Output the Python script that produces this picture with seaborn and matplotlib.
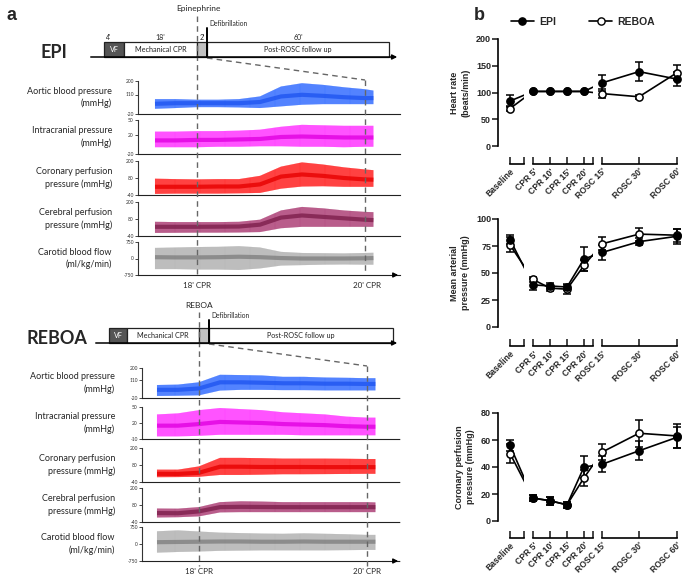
import numpy as np
import seaborn as sns
import matplotlib.pyplot as plt
from matplotlib.lines import Line2D
from matplotlib.colors import to_rgba

sns.set_theme(style="white")
plt.rcParams["font.family"] = ["Lato", "DejaVu Sans"]
plt.rcParams["hatch.linewidth"] = 0.7

W, H = 685, 577

# ---------------- panel b data ----------------
labels = ["Baseline", "CPR 5'", "CPR 10'", "CPR 15'", "CPR 20'", "ROSC 15'", "ROSC 30'", "ROSC 60'"]

hr_epi = [84, 102, 102, 102, 102, 118, 139, 125]
hr_epi_err = [11, 0, 0, 0, 0, 15, 18, 13]
hr_reboa = [70, 102, 102, 102, 102, 98, 92, 137]
hr_reboa_err = [4, 0, 0, 0, 0, 8, 4, 14]

map_epi = [81, 39, 38, 37, 63, 69, 79, 84]
map_epi_err = [4, 5, 3, 3, 11, 7, 3, 7]
map_reboa = [76, 44, 36, 35, 57, 77, 86, 85]
map_reboa_err = [7, 2, 3, 4, 5, 6, 6, 6]

cpp_epi = [56, 17, 15, 12, 40, 42, 52, 62]
cpp_epi_err = [4, 2, 3, 2, 8, 6, 7, 8]
cpp_reboa = [50, 17, 15, 12, 32, 51, 65, 63]
cpp_reboa_err = [7, 2, 3, 2, 6, 6, 10, 9]

# ---------------- panel a data: waveform envelopes (min / max / dense core) ----------------
t = [17.5, 17.75, 18.0, 18.25, 18.5, 18.75, 19.0, 19.25, 19.5, 19.75, 20.0, 20.1]

epi_aortic_lo = [15, 20, 26, 26, 24, 20, 31, 42, 46, 46, 46, 46]
epi_aortic_hi = [79, 79, 75, 75, 79, 97, 163, 185, 174, 158, 145, 136]
epi_aortic_mid = [48, 52, 52, 52, 52, 60, 97, 108, 101, 92, 86, 86]

epi_icp_lo = [-6, -6, -6, -5, -5, -4, -4, -5, -5, -6, -5, -5]
epi_icp_hi = [26, 26, 27, 27, 28, 30, 36, 40, 39, 38, 38, 38]
epi_icp_mid = [8, 8, 9, 9, 10, 11, 15, 16, 15, 14, 14, 14]

epi_cor_lo = [-32, -30, -30, -30, -28, -25, 5, 20, 22, 18, 18, 18]
epi_cor_hi = [75, 72, 70, 72, 72, 95, 160, 190, 175, 155, 140, 135]
epi_cor_mid = [18, 18, 18, 20, 20, 35, 90, 105, 95, 80, 70, 68]

epi_cer_lo = [-18, -17, -16, -16, -15, -12, 15, 25, 25, 25, 25, 25]
epi_cer_hi = [60, 58, 58, 58, 60, 75, 140, 165, 155, 140, 130, 128]
epi_cer_mid = [25, 25, 25, 26, 27, 40, 90, 105, 95, 85, 75, 72]

epi_cbf_lo = [-480, -480, -500, -500, -520, -450, -320, -300, -280, -270, -280, -280]
epi_cbf_hi = [480, 500, 520, 530, 560, 500, 300, 250, 240, 230, 250, 260]
epi_cbf_mid = [60, 50, 50, 60, 80, 60, 20, 0, 0, 0, 10, 20]

reb_aortic_lo = [-5, -3, 0, 35, 40, 40, 38, 38, 36, 36, 36, 36]
reb_aortic_hi = [75, 78, 95, 150, 148, 145, 135, 135, 130, 128, 125, 125]
reb_aortic_mid = [40, 40, 50, 95, 95, 92, 88, 88, 85, 85, 83, 83]

reb_icp_lo = [-5, -5, -4, -2, -2, -2, -2, -3, -3, -3, -3, -3]
reb_icp_hi = [36, 38, 44, 48, 46, 44, 40, 38, 36, 32, 30, 30]
reb_icp_mid = [15, 15, 18, 22, 21, 20, 18, 17, 16, 14, 13, 13]

reb_cor_lo = [-6, -5, -3, 10, 10, 12, 15, 15, 16, 17, 18, 18]
reb_cor_hi = [47, 47, 70, 130, 130, 128, 125, 125, 125, 124, 122, 122]
reb_cor_mid = [18, 17, 25, 68, 68, 66, 66, 66, 65, 65, 65, 65]

reb_cer_lo = [-8, -6, 0, 28, 30, 30, 30, 30, 30, 30, 30, 30]
reb_cer_hi = [55, 54, 65, 100, 106, 104, 100, 100, 100, 100, 100, 98]
reb_cer_mid = [23, 22, 35, 65, 67, 66, 65, 65, 65, 65, 65, 65]

reb_cbf_lo = [-380, -350, -330, -300, -290, -280, -280, -280, -280, -270, -260, -260]
reb_cbf_hi = [560, 600, 550, 500, 480, 460, 450, 470, 450, 430, 400, 400]
reb_cbf_mid = [80, 90, 100, 110, 110, 100, 100, 110, 100, 100, 100, 100]

row_names = ["Aortic blood pressure\n(mmHg)", "Intracranial pressure\n(mmHg)",
             "Coronary perfusion\npressure (mmHg)", "Cerebral perfusion\npressure (mmHg)",
             "Carotid blood flow\n(ml/kg/min)"]
row_colors = [("#3d74ff", "#1f55f0"), ("#ff3dff", "#e000e0"), ("#ff2a2a", "#e60000"),
              ("#b0487c", "#7d1f4c"), ("#b5b5b5", "#808080")]
epi_ticks = [[-20, 110, 200], [-20, 20, 50], [-40, 80, 200], [-40, 80, 200], [-750, 0, 750]]
reb_ticks = [[-20, 110, 200], [-10, 20, 50], [-40, 80, 200], [-40, 80, 200], [-750, 0, 750]]

epi_rows = [(epi_aortic_lo, epi_aortic_hi, epi_aortic_mid), (epi_icp_lo, epi_icp_hi, epi_icp_mid),
            (epi_cor_lo, epi_cor_hi, epi_cor_mid), (epi_cer_lo, epi_cer_hi, epi_cer_mid),
            (epi_cbf_lo, epi_cbf_hi, epi_cbf_mid)]
reb_rows = [(reb_aortic_lo, reb_aortic_hi, reb_aortic_mid), (reb_icp_lo, reb_icp_hi, reb_icp_mid),
            (reb_cor_lo, reb_cor_hi, reb_cor_mid), (reb_cer_lo, reb_cer_hi, reb_cer_mid),
            (reb_cbf_lo, reb_cbf_hi, reb_cbf_mid)]

phases = ["VF", "Mechanical CPR", "", "Post-ROSC follow up"]
durations = ["4'", "18'", "2'", "60'"]

fig = plt.figure(figsize=(W / 100, H / 100), dpi=100)


def px_axes(x0, y0, x1, y1):
    return fig.add_axes([x0 / W, 1 - y1 / H, (x1 - x0) / W, (y1 - y0) / H])


# ---------------- panel a: traces ----------------
def trace_block(rows, ticks, x_left, tops, bottoms, xlim, label_x):
    for k, (lo, hi, mid) in enumerate(rows):
        ax = px_axes(x_left, tops[k], 400, bottoms[k])
        ax.patch.set_alpha(0)
        light, dark = row_colors[k]
        ax.fill_between(t, lo, hi, facecolor=to_rgba(light, 0.28), edgecolor="none", linewidth=0)
        ax.fill_between(t, lo, hi, facecolor="none", edgecolor=to_rgba(light, 0.9),
                        hatch="|" * 16, linewidth=0.05)
        sns.lineplot(x=t, y=mid, ax=ax, color=dark, lw=3.0, alpha=0.8, solid_capstyle="butt")
        ax.set_xlim(xlim)
        ax.set_ylim(ticks[k][0], ticks[k][-1])
        ax.set_yticks(ticks[k])
        ax.set_yticklabels([str(v) for v in ticks[k]], fontsize=3.5, color="#333333")
        ax.set_xticks([])
        ax.tick_params(axis="y", direction="out", length=2, width=0.6, pad=1, left=True)
        for s in ["top", "right"]:
            ax.spines[s].set_visible(False)
        ax.spines["left"].set_linewidth(0.8)
        ax.spines["left"].set_color("#333333")
        ax.spines["bottom"].set_linestyle((0, (1.5, 1)))
        ax.spines["bottom"].set_linewidth(0.8)
        ax.spines["bottom"].set_color("#222222")
        fig.text(label_x / W, 1 - (tops[k] + bottoms[k]) / 2 / H, row_names[k], ha="right",
                 va="center", fontsize=6.5, linespacing=1.4)


trace_block(epi_rows, epi_ticks, 138, [81, 120, 161, 202, 242], [114, 154, 195, 236, 275],
            (18 - 59 / 84, 20 + 35 / 84), 112)
trace_block(reb_rows, reb_ticks, 142, [368, 407, 448, 488, 527], [398, 439, 482, 522, 561],
            (18 - 57 / 84, 20 + 33 / 84), 115)

# ---------------- panel b: broken-axis charts ----------------
pos = [0, 23 / 17, 40 / 17, 57 / 17, 74 / 17, 92 / 17, 129 / 17, 167 / 17]
seg_px = [(498, 524), (533, 593), (602, 677)]
seg_lim = [(-12 / 17, 14 / 17), (pos[1], 83 / 17), (pos[5], pos[7])]
seg_idx = [[0], [1, 2, 3, 4], [5, 6, 7]]
seg_ticks = [[pos[0], 14 / 17], pos[1:5] + [83 / 17], pos[5:8]]
seg_labels = [[labels[0], ""], labels[1:5] + [""], labels[5:8]]
bold = dict(family="Liberation Sans", weight="bold")


def draw_chart(y0, y1, ylim, yticks, ylabel, epi, epi_err, reb, reb_err, offset):
    for k, (xa, xb) in enumerate(seg_px):
        ax = px_axes(xa, y0, xb, y1)
        ax.patch.set_alpha(0)
        for series, err, face, z in [(reb, reb_err, "white", 5), (epi, epi_err, "black", 6)]:
            sns.lineplot(x=pos, y=series, ax=ax, color="black", lw=1.2, zorder=2)
            idx = seg_idx[k]
            e_idx = [i for i in idx if err[i] > 0]
            if e_idx:
                ax.errorbar([pos[i] for i in e_idx], [series[i] for i in e_idx],
                            yerr=[err[i] for i in e_idx], fmt="none", ecolor="black",
                            elinewidth=1.1, capsize=3, capthick=1.1, clip_on=False, zorder=3)
            ax.plot([pos[i] for i in idx], [series[i] for i in idx], "o", ms=5.2, mfc=face,
                    mec="black", mew=1.1, clip_on=False, zorder=z)
        ax.set_xlim(seg_lim[k])
        ax.set_ylim(ylim)
        for s in ["top", "right"]:
            ax.spines[s].set_visible(False)
        ax.spines["bottom"].set_position(("outward", offset))
        ax.spines["bottom"].set_bounds(seg_ticks[k][0], seg_ticks[k][-1])
        ax.spines["bottom"].set_linewidth(1.2)
        ax.spines["bottom"].set_color("black")
        ax.set_xticks(seg_ticks[k])
        ax.set_xticklabels(seg_labels[k], rotation=45, ha="right", rotation_mode="anchor",
                           fontsize=6.2, **bold)
        ax.tick_params(axis="x", direction="in", length=5, width=1.2, pad=2, bottom=True)
        if k == 0:
            ax.spines["left"].set_linewidth(1.2)
            ax.spines["left"].set_color("black")
            ax.set_yticks(yticks)
            ax.set_yticklabels([str(v) for v in yticks], fontsize=6.5, **bold)
            ax.tick_params(axis="y", direction="out", length=4, width=1.2, pad=1, left=True)
            ax.set_ylabel(ylabel, fontsize=6.5, labelpad=4, linespacing=1.3, **bold)
        else:
            ax.spines["left"].set_visible(False)
            ax.set_yticks([])


draw_chart(39, 146, (0, 200), [0, 50, 100, 150, 200], "Heart rate\n(beats/min)",
           hr_epi, hr_epi_err, hr_reboa, hr_reboa_err, 13)
draw_chart(219, 327, (0, 100), [0, 25, 50, 75, 100], "Mean arterial\npressure (mmHg)",
           map_epi, map_epi_err, map_reboa, map_reboa_err, 14)
draw_chart(413, 521, (0, 80), [0, 20, 40, 60, 80], "Coronary perfusion\npressure (mmHg)",
           cpp_epi, cpp_epi_err, cpp_reboa, cpp_reboa_err, 12)

handles = [Line2D([], [], color="black", lw=1.2, marker="o", ms=5.2, mfc="black", mec="black"),
           Line2D([], [], color="black", lw=1.2, marker="o", ms=5.2, mfc="white", mec="black")]
fig.legend(handles, ["EPI", "REBOA"], loc="center", bbox_to_anchor=(583 / W, 1 - 22 / H), ncol=2,
           frameon=False, prop=dict(family="Liberation Sans", weight="bold", size=7.5),
           handlelength=2.2, columnspacing=3.2, handletextpad=0.5)

# ---------------- overlay: timelines, markers, labels ----------------
ov = fig.add_axes([0, 0, 1, 1])
ov.set_xlim(0, W)
ov.set_ylim(H, 0)
ov.axis("off")

fig.text(6 / W, 1 - 15 / H, "a", fontsize=13, va="center", **bold)
fig.text(474 / W, 1 - 15 / H, "b", fontsize=13, va="center", **bold)


def timeline(name, name_x, y_base, x_start, box_edges, show_dur):
    ov.text(name_x, y_base - 5, name, fontsize=13, weight="bold", ha="center", va="center")
    ov.annotate("", xy=(400, y_base), xytext=(x_start, y_base),
                arrowprops=dict(arrowstyle="-|>", lw=1.1, color="black", mutation_scale=7))
    fills = ["#555555", "white", "#c0c0c0", "white"]
    for i in range(4):
        left, right = box_edges[i], box_edges[i + 1]
        ov.barh(y_base - 7.5, right - left, left=left, height=15, color=fills[i],
                edgecolor="#222222", linewidth=0.9)
        if phases[i]:
            ov.text((left + right) / 2, y_base - 7.5, phases[i], fontsize=5.2, ha="center",
                    va="center", color="white" if i == 0 else "#222222")
        if show_dur:
            ov.text((left + right) / 2 if i != 0 else left + 5, y_base - 19, durations[i],
                    fontsize=5, ha="center", va="center", color="#222222")


timeline("EPI", 54, 57, 88, [104, 124, 197, 207, 389], True)
timeline("REBOA", 57, 343, 93, [109, 127, 199, 209, 393], False)

dash = dict(color="#666666", lw=1.0, ls=(0, (4, 3)))
# EPI markers
ov.text(198, 9, "Epinephrine", fontsize=6, ha="center", va="center")
ov.text(209, 23, "Defibrillation", fontsize=4.8, ha="left", va="center")
ov.plot([207, 207], [28, 57], color="black", lw=1.4)
ov.plot([197, 197], [16, 274], **dash)
ov.plot([207, 365], [58, 80], **dash)
ov.plot([365, 365], [80, 274], **dash)
ov.annotate("", xy=(401, 275), xytext=(392, 275),
            arrowprops=dict(arrowstyle="-|>", lw=1.0, color="black", mutation_scale=7))
ov.text(197, 285, "18' CPR", fontsize=5.8, ha="center", va="center")
ov.text(367, 285, "20' CPR", fontsize=5.8, ha="center", va="center")
# REBOA markers
ov.text(199, 306, "REBOA", fontsize=6, ha="center", va="center")
ov.text(211, 316, "Defibrillation", fontsize=4.8, ha="left", va="center")
ov.plot([209, 209], [320, 343], color="black", lw=1.4)
ov.plot([199, 199], [312, 566], **dash)
ov.plot([209, 367], [344, 366], **dash)
ov.plot([367, 367], [366, 566], **dash)
ov.annotate("", xy=(401, 561), xytext=(392, 561),
            arrowprops=dict(arrowstyle="-|>", lw=1.0, color="black", mutation_scale=7))
ov.text(199, 571, "18' CPR", fontsize=5.8, ha="center", va="center")
ov.text(367, 571, "20' CPR", fontsize=5.8, ha="center", va="center")

fig.savefig("out.png", dpi=100)
